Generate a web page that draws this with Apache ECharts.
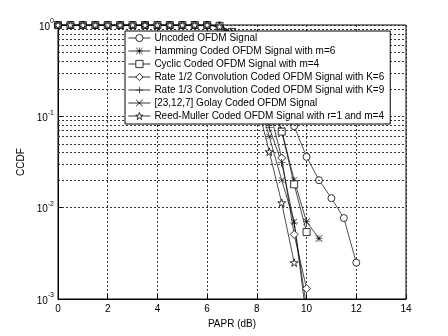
<!DOCTYPE html>
<html>
<head>
<meta charset="utf-8">
<script src="https://cdn.jsdelivr.net/npm/echarts@6/dist/echarts.min.js"></script>
<style>html,body{margin:0;padding:0;background:#fff;}#c{width:448px;height:336px;}</style>
</head>
<body>
<div id="c"></div>
<script>
var papr = [0,0.5,1,1.5,2,2.5,3,3.5,4,4.5,5,5.5,6,6.5,7,7.5,8,8.5,9,9.5,10,10.5,11,11.5,12];
var uncoded  = [1,1,1,1,1,1,1,1,1,1,1,1,1,0.99,0.8,0.6,0.45,0.3,0.17,0.078,0.036,0.020,0.0127,0.0077,0.0025];
var hamming  = [1,1,1,1,1,1,1,1,1,1,1,1,1,0.98,0.85,0.6,0.35,0.17,0.07,0.020,0.007,0.0046,null,null,null];
var cyclic   = [1,1,1,1,1,1,1,1,1,1,1,1,1,0.98,0.84,0.58,0.33,0.16,0.068,0.018,0.0054,null,null,null,null];
var conv12   = [1,1,1,1,1,1,1,1,1,1,1,1,1,0.97,0.8,0.5,0.27,0.12,0.035,0.0051,0.0013,null,null,null,null];
var conv13   = [1,1,1,1,1,1,1,1,1,1,1,1,1,0.97,0.78,0.47,0.22,0.075,0.031,0.0068,0.0008,null,null,null,null];
var golay    = [1,1,1,1,1,1,1,1,1,1,1,1,1,0.96,0.75,0.43,0.18,0.06,0.020,0.007,0.0006,null,null,null,null];
var reedm    = [1,1,1,1,1,1,1,1,1,1,1,1,1,0.96,0.72,0.4,0.14,0.041,0.0113,0.0025,null,null,null,null,null];
var names = [
  'Uncoded OFDM Signal',
  'Hamming Coded OFDM Signal with m=6',
  'Cyclic Coded OFDM Signal with m=4',
  'Rate 1/2 Convolution Coded OFDM Signal with K=6',
  'Rate 1/3 Convolution Coded OFDM Signal with K=9',
  '[23,12,7] Golay Coded OFDM Signal',
  'Reed-Muller Coded OFDM Signal with r=1 and m=4'
];
var xTicks = [0,2,4,6,8,10,12,14];
var yDecades = [0.001,0.01,0.1,1];
var minorMult = [2,3,4,5,6,7,8,9];

var PLUS = 'path://M4.6,0H5.4V4.6H10V5.4H5.4V10H4.6V5.4H0V4.6H4.6Z';
var XMK = 'path://M0,0.6L0.6,0L5,4.4L9.4,0L10,0.6L5.6,5L10,9.4L9.4,10L5,5.6L0.6,10L0,9.4L4.4,5Z';
var AST = 'path://M4.6,0H5.4V10H4.6Z M0,4.6H10V5.4H0Z M0.6,0L10,9.4L9.4,10L0,0.6Z M9.4,0L10,0.6L0.6,10L0,9.4Z';
var STAR = 'path://M5,0L6.123,3.455L9.755,3.455L6.816,5.59L7.939,9.045L5,6.91L2.061,9.045L3.184,5.59L0.245,3.455L3.877,3.455Z';

var hollow = {color:'#fff', borderColor:'#000', borderWidth:0.8};
var solid = {color:'#000', borderColor:'#000', borderWidth:0};
var sets = [
  {v: uncoded, sym:'circle', size:7, st:hollow},
  {v: hamming, sym:AST, size:7, st:solid},
  {v: cyclic, sym:'rect', size:7, st:hollow},
  {v: conv12, sym:'diamond', size:8, st:hollow},
  {v: conv13, sym:PLUS, size:8, st:solid},
  {v: golay, sym:XMK, size:6, st:solid},
  {v: reedm, sym:STAR, size:8, st:hollow}
];

function pairs(vals){
  var out = [];
  for (var i=0;i<papr.length;i++){ if (vals[i]!==null) out.push([papr[i], vals[i]]); }
  return out;
}

var series = sets.map(function(s, i){
  return {
    name: names[i], type:'line', data: pairs(s.v),
    symbol: s.sym, symbolSize: s.size, symbolKeepAspect: true,
    itemStyle: s.st, lineStyle: {color:'#000', width:0.7},
    showAllSymbol: true, clip: true, z: 3, silent: true,
    emphasis: {disabled: true}
  };
});

var minorLines = [];
yDecades.slice(0,3).forEach(function(d){
  minorMult.forEach(function(m){ minorLines.push({yAxis: d*m}); });
});
series.unshift({
  type:'line', data: [], silent:true, z:1,
  markLine: {
    silent:true, symbol:['none','none'], animation:false,
    label:{show:false},
    lineStyle:{color:'#333', type:[2,2], width:1},
    data: minorLines
  }
});

var chart = echarts.init(document.getElementById('c'), null, {renderer:'canvas'});
chart.setOption({
  animation: false,
  backgroundColor: '#fff',
  textStyle: {fontFamily: 'Liberation Sans, Arial, sans-serif'},
  grid: {left:58, right:42, top:25, bottom:37, show:true, borderColor:'#000', borderWidth:1, backgroundColor:'#fff'},
  xAxis: {
    type:'value', min:0, max:14, interval:2,
    name:'PAPR (dB)', nameLocation:'middle', nameGap:16,
    nameTextStyle:{color:'#000', fontSize:10, fontFamily:'Liberation Sans'},
    axisLine:{lineStyle:{color:'#000', width:1}},
    axisTick:{inside:true, length:4, lineStyle:{color:'#000'}},
    axisLabel:{color:'#000', fontSize:10, margin:5, fontFamily:'Liberation Sans'},
    splitLine:{show:true, lineStyle:{color:'#333', type:[2,2], width:1}}
  },
  yAxis: {
    type:'log', logBase:10, min:0.001, max:1,
    name:'CCDF', nameLocation:'middle', nameGap:28, nameRotate:90,
    nameTextStyle:{color:'#000', fontSize:10, fontFamily:'Liberation Sans'},
    axisLine:{lineStyle:{color:'#000', width:1}},
    axisTick:{inside:true, length:4, lineStyle:{color:'#000'}},
    axisLabel:{
      color:'#000', margin:4, fontFamily:'Liberation Sans',
      formatter: function(v){ return '{b|10}{s|' + Math.round(Math.log10(v)) + '}'; },
      rich:{
        b:{fontSize:10, color:'#000', fontFamily:'Liberation Sans', verticalAlign:'bottom', lineHeight:14},
        s:{fontSize:7, color:'#000', fontFamily:'Liberation Sans', verticalAlign:'top', lineHeight:14}
      }
    },
    splitLine:{show:true, lineStyle:{color:'#333', type:[2,2], width:1}}
  },
  legend: {
    data: names, orient:'vertical', left:125, top:31,
    backgroundColor:'#fff', borderColor:'#000', borderWidth:1,
    padding:[2,6,3,3], itemGap:3, itemWidth:22, itemHeight:9,
    selectedMode:false, z:10,
    lineStyle:{width:0.8, color:'#000', type:'solid'},
    itemStyle:{borderWidth:'inherit', borderColor:'inherit'},
    textStyle:{color:'#000', fontSize:10, fontFamily:'Liberation Sans', padding:[0,0,0,-1]}
  },
  series: series
});
</script>
</body>
</html>
